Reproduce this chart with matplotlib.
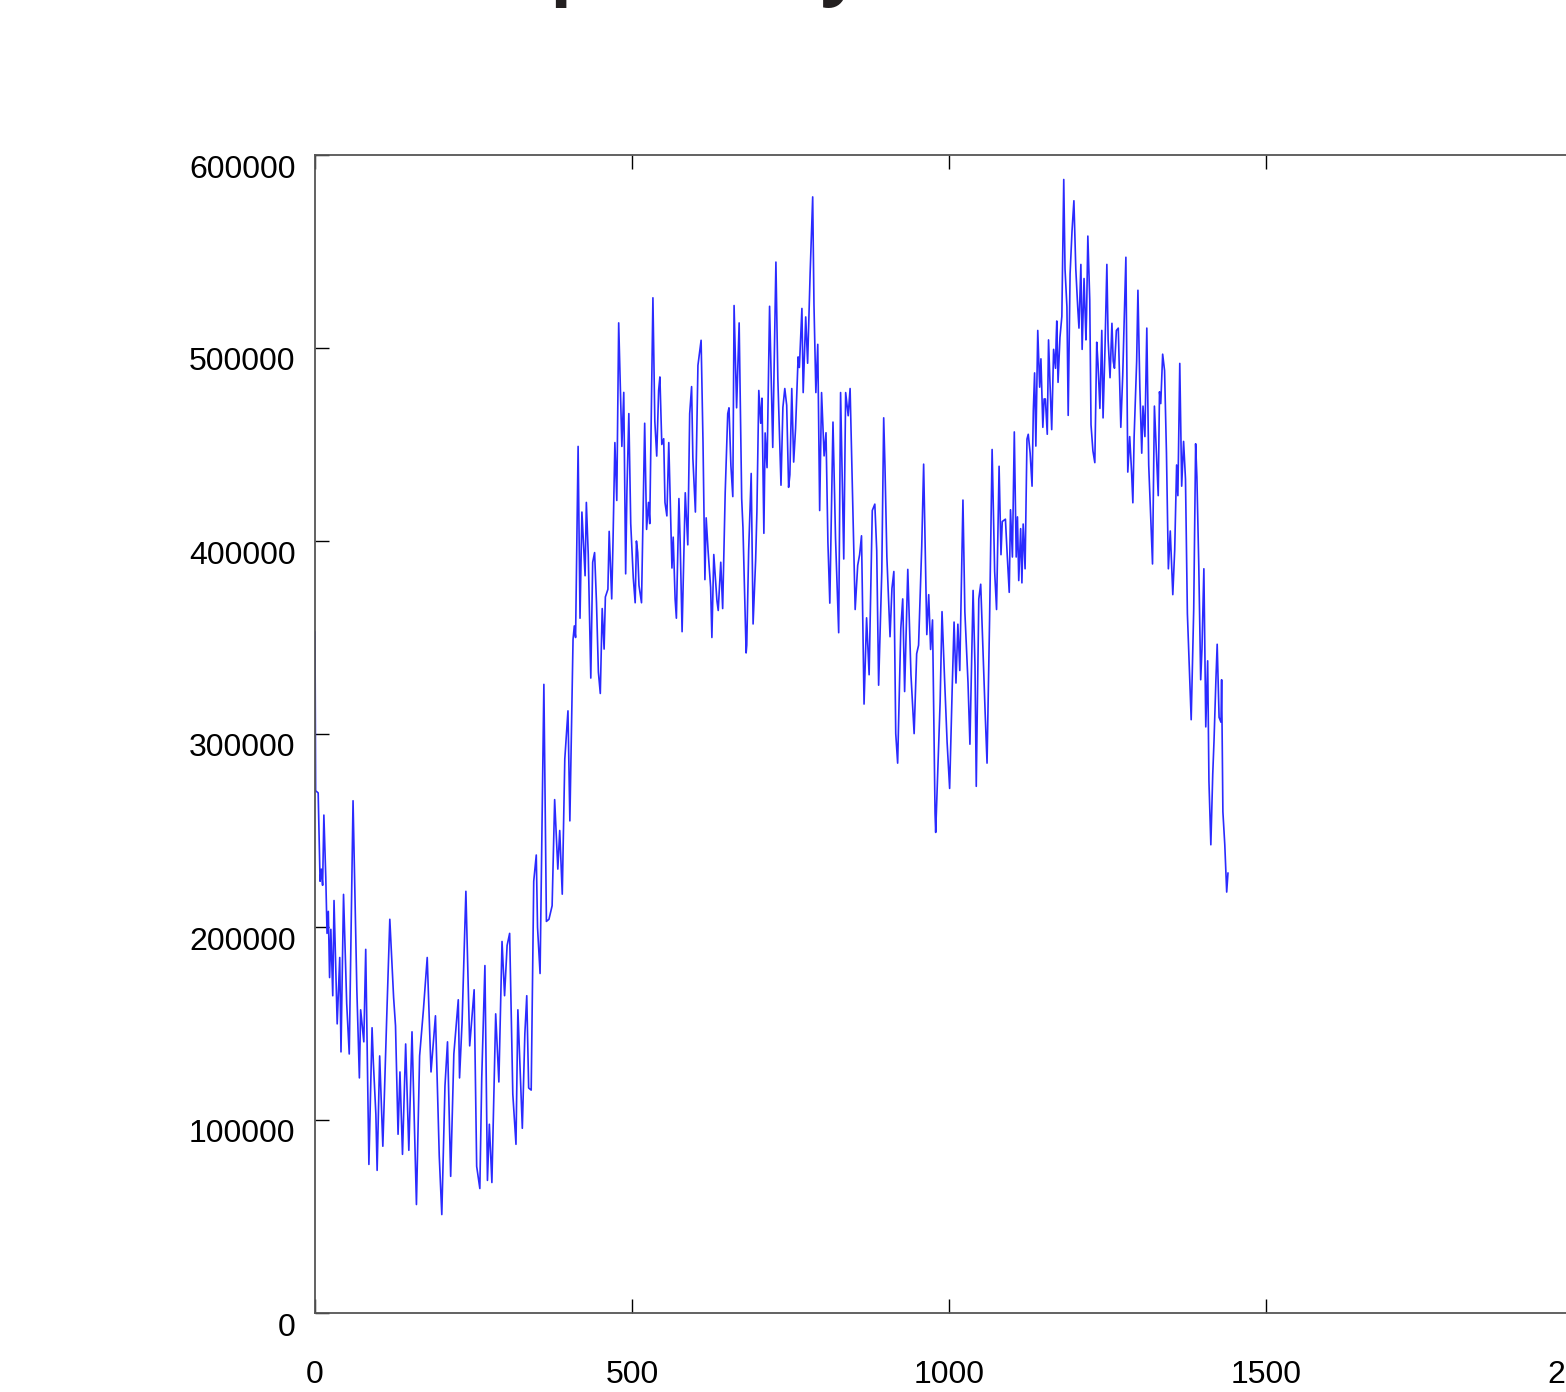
import numpy as np
import matplotlib
matplotlib.use('Agg')
import matplotlib.pyplot as plt
import matplotlib.transforms as mtransforms

# minute of the day and value (in thousands)
minutes = [0, 1, 5, 8, 10, 12, 14, 17, 19, 21, 23, 25, 28, 30, 35, 39, 41, 45, 50, 54,
           60, 66, 70, 72, 77, 80, 85, 87, 90, 92, 96, 98, 102, 107, 113, 118, 124, 127, 131, 134,
           138, 143, 148, 153, 160, 165, 171, 177, 183, 190, 196, 200, 205, 209, 214, 219, 226, 228, 232, 238,
           244, 251, 255, 260, 263, 268, 272, 275, 279, 285, 290, 295, 299, 303, 307, 312, 317, 320, 327, 331,
           334, 337, 341, 345, 349, 351, 355, 361, 365, 369, 374, 378, 383, 386, 390, 394, 399, 402, 405, 407,
           409, 411, 415, 418, 421, 426, 428, 431, 435, 438, 441, 444, 447, 450, 453, 456, 458, 462, 464, 468,
           470, 473, 476, 479, 484, 487, 490, 492, 495, 498, 502, 505, 507, 509, 511, 515, 520, 523, 526, 528,
           533, 536, 539, 542, 544, 547, 550, 552, 555, 558, 563, 565, 568, 570, 574, 576, 579, 584, 588, 591,
           594, 596, 600, 604, 609, 612, 615, 617, 620, 624, 626, 629, 634, 636, 640, 643, 647, 651, 653, 656,
           659, 661, 665, 669, 673, 675, 680, 681, 684, 688, 691, 695, 697, 700, 703, 705, 708, 710, 713,
           717, 722, 727, 730, 735, 738, 741, 744, 747, 749, 752, 755, 758, 762, 764, 768, 770, 774, 777, 781,
           785, 787, 790, 793, 796, 799, 803, 806, 809, 812, 817, 821, 826, 829, 834, 837, 841, 844, 848, 852,
           856, 859, 862, 866, 870, 874, 879, 883, 886, 889, 894, 897, 899, 902, 907, 910, 913, 916, 919, 924,
           927, 930, 935, 940, 945, 949, 952, 957, 960, 965, 968, 971, 974, 978, 979, 983, 986, 989, 993, 997,
           1001, 1005, 1008, 1011, 1014, 1017, 1022, 1025, 1030, 1033, 1038, 1041, 1043, 1047, 1050, 1057, 1060, 1064, 1068, 1072,
           1075, 1079, 1082, 1084, 1089, 1092, 1095, 1097, 1100, 1103, 1106, 1108, 1110, 1113, 1115, 1117, 1120, 1123, 1125, 1128,
           1131, 1133, 1135, 1137, 1140, 1143, 1145, 1148, 1150, 1152, 1155, 1157, 1159, 1162, 1165, 1168, 1169, 1170, 1172, 1175,
           1178, 1181, 1183, 1186, 1188, 1191, 1194, 1197, 1200, 1203, 1205, 1208, 1210, 1213, 1216, 1217, 1219, 1222, 1224, 1227,
           1230, 1233, 1235, 1238, 1241, 1243, 1246, 1249, 1251, 1254, 1257, 1259, 1261, 1264, 1267, 1271, 1274, 1277, 1279, 1282,
           1285, 1288, 1290, 1292, 1296, 1298, 1301, 1304, 1306, 1309, 1312, 1315, 1318, 1321, 1324, 1327, 1330, 1332, 1334, 1337,
           1340, 1343, 1346, 1349, 1353, 1356, 1359, 1361, 1364, 1367, 1369, 1370, 1373, 1376, 1382, 1386, 1389, 1391, 1394, 1397,
           1399, 1402, 1405, 1408, 1410, 1413, 1416, 1418, 1421, 1423, 1426, 1429, 1430, 1432, 1435, 1438, 1440]

values_k = [352.8, 270.6, 269.5, 223.7, 230, 221.6, 258, 225.8, 196.7, 208.1, 173.8, 198.8, 164.4, 213.7, 149.8, 184.2, 135.3, 216.9, 160.3, 134.2,
            265.4, 167.5, 121.8, 157.1, 140.5, 188.4, 77, 106.2, 147.8, 130.1, 103, 73.9, 133.2, 86.4, 151.9, 204, 163.4, 148.8, 92.6, 124.9,
            82.2, 139.4, 84.3, 145.7, 56.2, 133.2, 157.1, 184.2, 124.9, 154, 81.2, 51, 117.6, 140.5, 70.8, 134.2, 162.3, 121.8, 150.9, 218.5,
            138.4, 167.5, 76, 64.5, 121.8, 180, 68.7, 97.8, 67.6, 155, 119.7, 192.5, 164.4, 190.4, 196.7, 113.4, 87.4, 157.1, 95.7, 144.7,
            164.4, 116.6, 115.5, 223.7, 237.3, 199.8, 175.9, 325.7, 202.9, 204, 211, 266, 230, 250, 217, 287, 312, 255, 311, 349,
            356, 350, 449, 360, 415, 382, 420, 393, 329, 389, 394, 368, 332, 321, 365, 344, 371, 375, 405, 370,
            399, 451, 421, 513, 449, 477, 383, 426, 466, 409, 381, 368, 400, 394, 377, 368, 461, 406, 420, 409,
            526, 462, 444, 478, 485, 450, 453, 420, 413, 451, 386, 402, 370, 360, 422, 399, 353, 425, 398, 466,
            480, 443, 415, 491, 504, 451, 380, 412, 395, 376, 350, 393, 369, 364, 389, 365, 425, 466, 469, 439,
            423, 522, 469, 513, 422, 407, 342, 346, 395, 435, 357, 390, 415, 478, 461, 474, 404, 456, 438,
            521.6, 448.5, 544.5, 484.5, 428.9, 469.2, 479, 470.3, 427.8, 434.3, 479, 440.9, 458.3, 495.4, 489.9, 520.5, 476.9, 516.1, 492.1, 539,
            578.3, 522.7, 476.9, 501.9, 415.8, 476.9, 444.1, 456.1, 399.4, 367.8, 461.6, 401.6, 352.5, 476.9, 390.7, 476.9, 464.9, 479, 421.2, 364.5,
            387.4, 392.9, 402.7, 315.5, 360.2, 330.7, 415.8, 419.1, 395.1, 325.3, 384.2, 463.8, 438.7, 391.8, 350.4, 375.4, 384.2, 300.2, 284.9, 354.7,
            370, 322, 385.3, 330.7, 300.2, 341.6, 346, 397.3, 439.8, 351.5, 372.2, 343.8, 359.1, 258.8, 249, 287.1, 316.6, 363.4, 328.6, 295.8,
            271.8, 323.1, 358, 326.4, 356.9, 332.9, 421.2, 363.4, 326.4, 294.7, 374.4, 335.1, 272.9, 370, 377.6, 311.1, 284.9, 359.1, 447.4, 384.2,
            364.5, 438.7, 392.9, 410.1, 411.3, 391.7, 373.4, 416.2, 391.7, 456.5, 391.7, 412.5, 379.5, 406.4, 378.3, 408.8, 385.6, 452.8, 455.3, 445.5,
            428.4, 467.5, 487.1, 449.2, 509.1, 479.7, 494.4, 458.9, 473.6, 473.6, 455.3, 504.2, 484.6, 457.7, 499.3, 489.5, 504.2, 514, 482.2, 505.4,
            516.4, 587.3, 540.9, 521.3, 465.1, 538.4, 560.4, 576.3, 540.9, 521.3, 510.3, 543.3, 499.3, 536, 504.2, 517.6, 558, 525, 460.2, 446.7,
            440.6, 503, 492, 468.7, 509.1, 463.8, 499.3, 543.3, 504.2, 484.6, 512.8, 493.2, 489.5, 509.1, 510.3, 458.9, 485.8, 522.5, 547, 435.7,
            454.1, 435.7, 419.8, 454.1, 493.2, 529.9, 479.7, 445.5, 469.9, 454.1, 510.3, 439.4, 413.7, 388.1, 469.9, 446.7, 423.5, 477.3, 471.2, 496.8,
            488.3, 445.5, 385.6, 405.2, 372.2, 395.4, 439.4, 423.5, 492, 428.4, 443.1, 451.6, 432.1, 362.4, 307.4, 364.8, 450.4, 433.3, 386.8, 328.1,
            344, 385.6, 303.7, 337.9, 275.6, 242.6, 279.2, 296.4, 328.1, 346.5, 308.6, 306.1, 328.1, 259.7, 242.6, 218.1, 227.9]

title = 'Sample Daily Data'
xticks = [0, 500, 1000, 1500, 2000]
yticks = [0, 100000, 200000, 300000, 400000, 500000, 600000]

values = np.array(values_k) * 1000

fig = plt.figure(figsize=(15.66, 13.92), dpi=100)
ax = fig.add_axes([315/1566, 79/1392, 1268/1566, 1158/1392])

ax.plot(minutes, values, color='#2a2aff', lw=1.2)

ax.set_xlim(0, 2000)
ax.set_ylim(0, 600000)
ax.set_xticks(xticks)
ax.set_yticks(yticks)
ax.set_xticklabels([str(t) for t in xticks])
ax.set_yticklabels([str(t) for t in yticks])

ax.tick_params(direction='in', top=True, right=True, length=10, width=1,
               labelsize=23, colors='black')
ax.tick_params(axis='x', pad=34)
ax.tick_params(axis='y', pad=14)
for lab in ax.get_xticklabels() + ax.get_yticklabels():
    lab.set_fontfamily('Liberation Sans')
# gnuplot-ish: y labels sit a little below their ticks
shift = mtransforms.ScaledTranslation(0, -11/100, fig.dpi_scale_trans)
for lab in ax.get_yticklabels():
    lab.set_transform(lab.get_transform() + shift)

for s in ax.spines.values():
    s.set_color('#555555')
    s.set_linewidth(1.3)

# title sits mostly above the visible area, only descenders show
fig.text(396/1566, 1 + 9/1392, title, fontsize=52, fontweight='bold',
         family='Open Sans', color='#231f20', ha='left', va='baseline')

fig.savefig('out.png', dpi=100)
